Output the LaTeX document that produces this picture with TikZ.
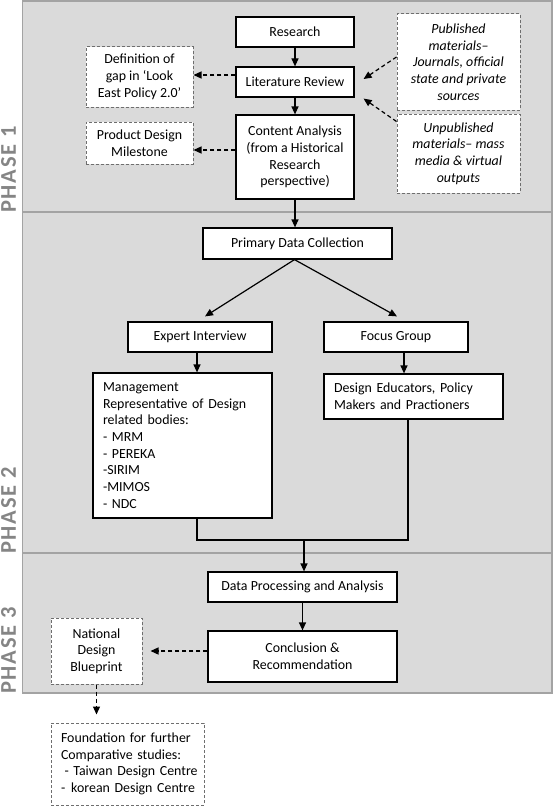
\documentclass[tikz,border=0pt]{standalone}
\usepackage{fontspec}
\setmainfont{Carlito}
\newfontfamily\phasefam[LetterSpace=8]{Carlito}
\usetikzlibrary{arrows.meta,calc}
\definecolor{panelfill}{HTML}{DADADA}
\definecolor{panelline}{HTML}{A3A3A3}
\definecolor{phasegray}{HTML}{858585}
\definecolor{dashgray}{HTML}{6E6E6E}
\newcommand\mybody{\fontsize{13.9}{16.7}\selectfont}
\newcommand\myphase{\phasefam\bfseries\fontsize{22.5}{24}\selectfont}
\begin{document}
\begin{tikzpicture}[x=1pt,y=-1pt,
  box/.style={draw=black, line width=1.2pt, fill=white, inner sep=0pt, align=center, font=\mybody},
  lbox/.style={box, align=left, inner xsep=10pt, inner ysep=0pt},
  dbox/.style={draw=dashgray, line width=1pt, dash pattern=on 3pt off 2pt, fill=white, inner sep=0pt, align=center, font=\mybody},
  sz/.style 2 args={minimum width=#1pt, minimum height=#2pt},
  arr/.style={-{Triangle[length=8pt,width=7pt]}, line width=1.2pt},
  darr/.style={arr, dash pattern=on 4pt off 3pt},
  panel/.style={fill=panelfill, draw=panelline, line width=1.3pt},
  phase/.style={rotate=90, anchor=base west, inner sep=0pt, text=phasegray, font=\myphase}]
\useasboundingbox (0,0) rectangle (553,808);
% panels
\path[panel] (22.5,1) rectangle (552,212);
\path[panel] (22.5,212) rectangle (552,553);
\path[panel] (22.5,553) rectangle (552,693);
\node[phase] (ph1) at (16,213) {PHASE 1};
\node[phase] (ph2) at (16,554) {PHASE 2};
\node[phase] (ph3) at (16,694) {PHASE 3};
% phase 1
\node[box, sz={118}{30}] (research) at (295,32) {Research};
\node[box, sz={118}{30}] (lit) at (295,82) {Literature Review};
\node[box, sz={118}{84}] (content) at (295,157) {Content Analysis\\(from a Historical\\Research\\perspective)};
\node[dbox, sz={107}{60}] (def) at (139.5,77) {Definition of\\gap in ‘Look\\East Policy 2.0’};
\node[dbox, sz={107}{42}] (prod) at (139.5,143) {Product Design\\Milestone};
\node[dbox, sz={123}{96}, font=\mybody\itshape] (pub) at (458.5,62) {Published\\materials–\\Journals, official\\state and private\\sources};
\node[dbox, sz={123}{79}, font=\mybody\itshape] (unpub) at (458.5,153.5) {Unpublished\\materials– mass\\media \& virtual\\outputs};
% phase 2
\node[box, sz={189}{31}] (primary) at (297.5,243.5) {Primary Data Collection};
\node[box, sz={144}{30}] (expert) at (200,337) {Expert Interview};
\node[box, sz={144}{30}] (focus) at (396,337) {Focus Group};
\node[lbox, text width=159pt, minimum height=145pt] (mgmt) at (182.5,445.5) {\mbox{Management}\\\mbox{Representative of Design}\\\mbox{related bodies:}\\- MRM\\- PEREKA\\-SIRIM\\-MIMOS\\- NDC};
\node[lbox, text width=159pt, minimum height=45pt] (design) at (413.5,396.5) {\mbox{Design Educators, Policy}\\\mbox{Makers and Practioners}};
% phase 3
\node[box, sz={189}{30}] (dataproc) at (302.5,587) {Data Processing and Analysis};
\node[box, sz={189}{51}] (concl) at (302.5,656.5) {Conclusion \&\\Recommendation};
\node[dbox, sz={91}{66}] (ndb) at (96.5,651) {National\\Design\\Blueprint};
\node[dbox, align=left, inner xsep=10pt, text width=133pt, minimum height=82pt] (found) at (127.5,764) {\mbox{Foundation for further}\\\mbox{Comparative studies:}\\\mbox{\hspace*{3.5pt}- Taiwan Design Centre}\\\mbox{-\hspace*{6pt}korean Design Centre}};
% connectors phase 1
\draw[arr] (research) -- (lit);
\draw[arr] (lit) -- (content);
\draw[arr] (content.south) -- (content.south |- primary.north);
\coordinate (dt) at ($(def.east)+(0,-2)$);
\draw[darr] (lit.west |- dt) -- (dt);
\coordinate (pt) at ($(prod.east)+(0,7)$);
\draw[darr] (content.west |- pt) -- (pt);
\coordinate (pa) at ($(pub.west)+(0,-5)$);
\coordinate (la) at ($(lit.east)+(9,-3)$);
\draw[darr] (pa) -- (la);
\coordinate (ua) at ($(unpub.north west)+(0,8)$);
\coordinate (lb) at ($(lit.south east)+(9,1)$);
\draw[darr] (ua) -- (lb);
% connectors phase 2
\draw[arr] ($(primary.south)+(-3,0)$) -- ($(expert.north)+(5,-5)$);
\draw[arr] ($(primary.south)+(-3,0)$) -- ($(focus.north)+(1,-5)$);
\coordinate (es) at ($(expert.south)+(-3,0)$);
\draw[arr] (es) -- (es |- mgmt.north);
\coordinate (fs) at ($(focus.south)+(8,0)$);
\draw[arr] (fs) -- (fs |- design.north);
\coordinate (mj) at (304,540);
\draw[line width=1.2pt] ($(mgmt.south)+(14.5,0)$) |- (mj) -| ($(design.south)+(-5.5,0)$);
\draw[arr] (mj) -- (mj |- dataproc.north);
% connectors phase 3
\draw[arr] (dataproc) -- (concl);
\draw[darr] (concl.west |- ndb.east) -- ($(ndb.east)+(8,0)$);
\draw[darr] (ndb.south) -- ($(ndb.south |- found.north)+(0,-8)$);
\end{tikzpicture}
\end{document}
